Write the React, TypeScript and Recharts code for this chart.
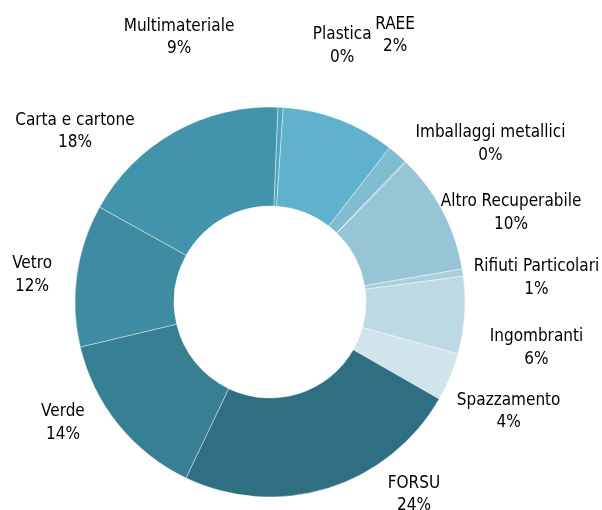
import { Cell, Pie, PieChart } from 'recharts';

const categories = [
  'Plastica',
  'Multimateriale',
  'RAEE',
  'Imballaggi metallici',
  'Altro Recuperabile',
  'Rifiuti Particolari',
  'Ingombranti',
  'Spazzamento',
  'FORSU',
  'Verde',
  'Vetro',
  'Carta e cartone',
];

// share of the total, in percent
const shares = [0.45, 9.4, 1.7, 0.1, 10.0, 0.6, 6.4, 4.0, 23.8, 14.2, 11.8, 17.55];

const colors = [
  '#4da5bf', '#60b1cb', '#80bdd0', '#8cc2d3', '#97c5d6', '#a9cfdc',
  '#bdd9e4', '#cfe4eb', '#2f6f81', '#377f93', '#3d8ca2', '#4294ac',
];

// label shift away from the radial anchor point (Excel-like placement)
const labelShift: [number, number][] = [
  [60, -33], [-171, -56], [-22, -98], [64, 2], [42, 14], [44, 8],
  [42, 29], [31, 21], [77, -24], [-32, -22], [-15, 2], [-85, 24],
];

const data = categories.map((name, i) => ({ name, value: shares[i] }));

const RAD = Math.PI / 180;
const FONT = '"DejaVu Sans Condensed", "DejaVu Sans", sans-serif';

const renderLabel = (props: any) => {
  const { cx, cy, midAngle, outerRadius, percent, index, name } = props;
  const r = outerRadius + 30;
  const x = cx + r * Math.cos(-midAngle * RAD) + labelShift[index][0];
  const y = cy + r * Math.sin(-midAngle * RAD) + labelShift[index][1];
  return (
    <text
      x={x}
      y={y}
      textAnchor="middle"
      fill="#000"
      fontSize={17}
      fontFamily={FONT}
    >
      <tspan x={x} dy={-5}>{name}</tspan>
      <tspan x={x} dy={22.5}>{`${Math.round(percent * 100)}%`}</tspan>
    </text>
  );
};

export default function App() {
  return (
    <div style={{ position: 'fixed', top: 0, left: 0, width: 602, height: 510, overflow: 'hidden' }}>
      <PieChart width={602} height={510} margin={{ top: 0, right: 0, bottom: 0, left: 0 }}>
        <Pie
          data={data}
          dataKey="value"
          nameKey="name"
          cx={270}
          cy={302}
          innerRadius={96}
          outerRadius={195}
          startAngle={87.7}
          endAngle={-272.3}
          stroke="#ffffff"
          strokeWidth={0.4}
          label={renderLabel}
          labelLine={false}
          isAnimationActive={false}
        >
          {data.map((d, i) => (
            <Cell key={d.name} fill={colors[i]} />
          ))}
        </Pie>
      </PieChart>
    </div>
  );
}
